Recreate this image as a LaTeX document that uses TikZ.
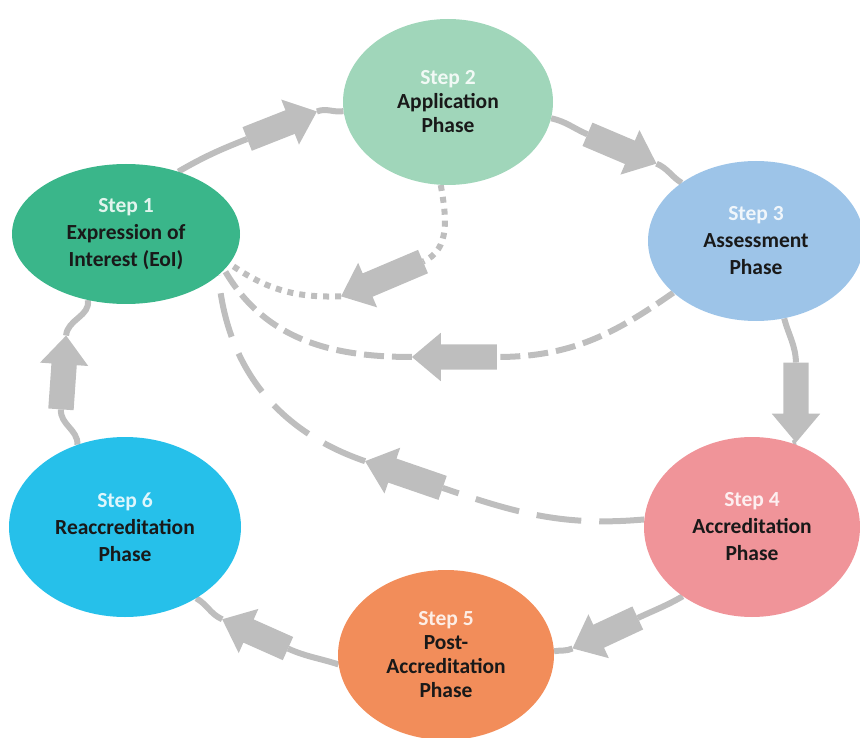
\documentclass[tikz,border=0pt]{standalone}
\usepackage{fontspec}
\setmainfont{Carlito}
\usepackage{tikz}
\usetikzlibrary{shapes.geometric,shapes.arrows,arrows,positioning,calc}
\pgfdeclarelayer{background}
\pgfsetlayers{background,main}

\definecolor{stepone}{RGB}{58,182,138}
\definecolor{steptwo}{RGB}{160,214,186}
\definecolor{stepthree}{RGB}{157,196,232}
\definecolor{stepfour}{RGB}{240,148,153}
\definecolor{stepfive}{RGB}{242,141,90}
\definecolor{stepsix}{RGB}{38,192,234}
\definecolor{flowgray}{RGB}{190,190,190}

\newcommand{\stepname}[2]{\textcolor{white!85!#1}{Step #2}}

\begin{document}
\begin{tikzpicture}[
            x=1pt, y=1pt,
            phase/.style={ellipse,inner sep=0pt,align=center,text=black!90,
                font=\fontsize{21.5}{27}\selectfont\bfseries},
            tight/.style={font=\fontsize{21.5}{24}\selectfont\bfseries},
            bigarrow/.style={single arrow,fill=flowgray,inner xsep=0pt,inner ysep=12.5pt,
                outer sep=0pt,single arrow head extend=11.5pt,single arrow tip angle=80,
                minimum height=#1},
            bigarrow/.default=75pt,
            flow/.style={draw=flowgray,line width=6pt},
            dotflow/.style={flow,dash pattern=on 6pt off 6pt},
            dashflow/.style={flow,dash pattern=on 20pt off 8pt},
            longflow/.style={flow,dash pattern=on 45pt off 18pt}
        ]
        \useasboundingbox (0,0) rectangle (860,-738);

        % Draw phases %
        \node[phase,fill=stepone,minimum width=228pt,minimum height=140pt] (s1) at (126,-234)
            {\stepname{stepone}{1}\\Expression of\\Interest (EoI)};
        \node[phase,tight,fill=steptwo,minimum width=210pt,minimum height=166pt] (s2) at (448,-102)
            {\stepname{steptwo}{2}\\Application\\Phase};
        \node[phase,fill=stepthree,minimum width=216pt,minimum height=160pt] (s3) at (756,-241)
            {\stepname{stepthree}{3}\\Assessment\\Phase};
        \node[phase,fill=stepfour,minimum width=216pt,minimum height=180pt] (s4) at (752,-527)
            {\stepname{stepfour}{4}\\Accreditation\\Phase};
        \node[phase,tight,fill=stepfive,minimum width=216pt,minimum height=170pt] (s5) at (446,-655)
            {\stepname{stepfive}{5}\\Post-\\Accreditation\\Phase};
        \node[phase,fill=stepsix,minimum width=232pt,minimum height=180pt] (s6) at (125,-527)
            {\stepname{stepsix}{6}\\Reaccreditation\\Phase};

        % Draw block arrows %
        \node[bigarrow,rotate=21.5] (a12) at (275,-128) {};
        \node[bigarrow,rotate=-23] (a23) at (615,-146) {};
        \node[bigarrow=80pt,rotate=-90] (a34) at (796,-395) {};
        \node[bigarrow=72pt,rotate=-155] (a45) at (612,-630) {};
        \node[bigarrow=72pt,rotate=156] (a56) at (262,-637) {};
        \node[bigarrow=74pt,rotate=86] (a61) at (63,-380) {};
        \node[bigarrow=89pt,rotate=203] (f2) at (389,-276) {};
        \node[bigarrow=85pt,rotate=180] (f3) at (462,-357) {};
        \node[bigarrow=82pt,rotate=161] (f4) at (411,-477) {};

        % Draw connectors %
        \begin{pgfonlayer}{background}
            \draw[flow] (s1.50) to[out=30,in=201.5] (a12.tail);
            \draw[flow] (a12.tip) to[out=21.5,in=189] (s2.185);
            \draw[flow] (s2.-9) to[out=-12,in=157] (a23.tail);
            \draw[flow] (a23.tip) to[out=-23,in=148] (s3.142);
            \draw[flow] (s3.-70) to[out=-75,in=92] (a34.tail);
            \draw[flow] (a34.tip) to[out=-90,in=95] (s4.64);
            \draw[flow] (s4.225) to[out=210,in=25] (a45.tail);
            \draw[flow] (a45.tip) to[out=205,in=10] (s5.2);
            \draw[flow] (s5.185) to[out=162,in=-24] (a56.tail);
            \draw[flow] (a56.tip) to[out=156,in=-30] (s6.-45);
            \draw[flow] (s6.120) to[out=88,in=-94] (a61.tail);
            \draw[flow] (a61.tip) to[out=86,in=-80] (s1.240);

            % Loops back to step 1 %
            \draw[dotflow] (s2.265) to[out=-80,in=23] (f2.tail);
            \draw[dotflow] (f2.tip) to[out=182,in=-35] (s1.-16);
            \draw[dashflow] (s3.212) to[out=215,in=0] (f3.tail);
            \draw[dashflow] (f3.tip) to[out=180,in=-60] (s1.-20);
            \draw[longflow] (s4.176) to[out=185,in=-19] (f4.tail);
            \draw[longflow] (f4.tip) to[out=161,in=-85] (s1.-24);
        \end{pgfonlayer}
        \end{tikzpicture}
\end{document}
